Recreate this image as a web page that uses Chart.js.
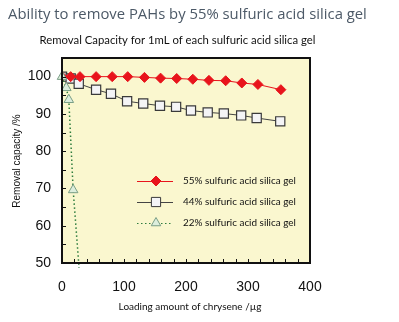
<!DOCTYPE html>
<html>
<head>
<meta charset="utf-8">
<script src="https://cdn.jsdelivr.net/npm/chart.js@4/dist/chart.umd.min.js"></script>
<style>
  html, body { margin: 0; padding: 0; background: #ffffff; }
  #wrap { width: 399px; height: 322px; position: relative; }
</style>
</head>
<body>
<div id="wrap"><canvas id="c" width="399" height="322"></canvas></div>
<script>
// values
const loading55  = [0, 14, 29, 55, 81, 106, 133, 159, 185, 211, 237, 264, 290, 316, 353];
const capacity55 = [100, 100, 100, 100, 100, 100, 99.8, 99.6, 99.5, 99.3, 99.0, 98.9, 98.3, 97.9, 96.5];

const loading44  = [0, 14, 27, 55, 79, 105, 131, 158, 184, 208, 235, 261, 289, 314, 352];
const capacity44 = [100, 99.5, 98.1, 96.5, 95.4, 93.4, 92.8, 92.2, 91.9, 90.9, 90.4, 90.1, 89.6, 88.9, 88.0];

const loading22  = [0, 7, 11, 18, 27.5];
const capacity22 = [100, 97, 93.8, 69.6, 48.7];

const seriesNames = ["55% sulfuric acid silica gel", "44% sulfuric acid silica gel", "22% sulfuric acid silica gel"];
const xTicks = [0, 100, 200, 300, 400];
const yTicks = [50, 60, 70, 80, 90, 100];

const mainTitle = "Ability to remove PAHs by 55% sulfuric acid silica gel";
const subTitle  = "Removal Capacity for 1mL of each sulfuric acid silica gel";
const xTitle    = "Loading amount of chrysene /\u00b5g";
const yTitle    = "Removal capacity /%";

function pts(xs, ys) {
  return xs.map(function(x, i) { return { x: x, y: ys[i] }; });
}

// shrink a font so the text spans the given width
function fitFont(ctx, text, family, size, width) {
  ctx.font = size + "px " + family;
  var w = ctx.measureText(text).width;
  ctx.font = (size * width / w).toFixed(2) + "px " + family;
}

const RED = "#e8141c";
const SQ_BORDER = "#3a3a3a";
const TRI_BORDER = "#7a9e86";

var frame = {
  id: "frame",
  beforeDatasetsDraw: function(chart) {
    var a = chart.chartArea, ctx = chart.ctx;
    ctx.save();
    ctx.fillStyle = "#faf7cf";
    ctx.fillRect(a.left, a.top, a.right - a.left, a.bottom - a.top);
    ctx.restore();
  },
  afterDraw: function(chart) {
    var a = chart.chartArea, ctx = chart.ctx;
    var xs = chart.scales.x, ys = chart.scales.y;
    ctx.save();

    // box
    ctx.strokeStyle = "#111";
    ctx.lineWidth = 2;
    ctx.strokeRect(a.left, a.top, a.right - a.left, a.bottom - a.top);

    // small inward ticks
    ctx.lineWidth = 1;
    for (var v = 50; v <= 105; v += 5) {
      var py = Math.round(ys.getPixelForValue(v)) + 0.5;
      ctx.beginPath(); ctx.moveTo(a.left, py); ctx.lineTo(a.left + 4, py); ctx.stroke();
    }
    for (var u = 20; u < 400; u += 20) {
      var px = Math.round(xs.getPixelForValue(u)) + 0.5;
      ctx.beginPath(); ctx.moveTo(px, a.bottom); ctx.lineTo(px, a.bottom - 4); ctx.stroke();
    }

    // titles
    ctx.textBaseline = "middle";
    ctx.fillStyle = "#4c5967";
    fitFont(ctx, mainTitle, "'Open Sans'", 16, 359);
    ctx.textAlign = "left";
    ctx.fillText(mainTitle, 8, 15);

    ctx.fillStyle = "#111";
    fitFont(ctx, subTitle, "Lato", 11.5, 276);
    ctx.textAlign = "center";
    ctx.fillText(subTitle, 177.5, 40);

    ctx.font = "10px Lato";
    ctx.fillText(xTitle, 190, 307);

    ctx.font = "10px 'Liberation Sans'";
    ctx.translate(17, 161);
    ctx.rotate(-Math.PI / 2);
    ctx.fillText(yTitle, 0, 0);
    ctx.restore();

    // legend inside plot
    ctx.save();
    var rows = [181, 202, 223];
    chart.data.datasets.forEach(function(ds, i) {
      var y = rows[i];
      ctx.strokeStyle = ds.borderColor;
      ctx.lineWidth = 1;
      ctx.setLineDash(ds.borderDash || []);
      ctx.beginPath(); ctx.moveTo(137, y + 0.5); ctx.lineTo(173, y + 0.5); ctx.stroke();
      ctx.setLineDash([]);
      ctx.fillStyle = ds.pointBackgroundColor;
      ctx.strokeStyle = ds.pointBorderColor;
      ctx.lineWidth = 1;
      if (Chart.helpers && Chart.helpers.drawPoint) {
        Chart.helpers.drawPoint(ctx, {
          pointStyle: ds.pointStyle, radius: ds.legendRadius, rotation: 0, borderWidth: 1
        }, 156, y);
      }
      ctx.fillStyle = "#111";
      fitFont(ctx, seriesNames[0], "Lato", 10, 113);
      ctx.textAlign = "left";
      ctx.textBaseline = "middle";
      ctx.fillText(ds.label, 183, y);
    });
    ctx.restore();
  }
};

new Chart(document.getElementById("c"), {
  type: "line",
  plugins: [frame],
  data: {
    datasets: [
      {
        label: seriesNames[0],
        data: pts(loading55, capacity55),
        borderColor: RED,
        borderWidth: 1,
        pointStyle: "rectRot",
        pointRadius: 5,
        legendRadius: 5,
        pointBackgroundColor: RED,
        pointBorderColor: RED,
        pointBorderWidth: 1,
        order: 1
      },
      {
        label: seriesNames[1],
        data: pts(loading44, capacity44),
        borderColor: "#444",
        borderWidth: 1,
        pointStyle: "rect",
        pointRadius: 6.5,
        legendRadius: 6.5,
        pointBackgroundColor: "#f4f4f6",
        pointBorderColor: SQ_BORDER,
        pointBorderWidth: 1.2,
        order: 2
      },
      {
        label: seriesNames[2],
        data: pts(loading22, capacity22),
        borderColor: "#2e7d3e",
        borderWidth: 1.5,
        borderDash: [1.5, 2.5],
        pointStyle: "triangle",
        pointRadius: [5.5, 5.5, 5.5, 5.5, 0],
        legendRadius: 5.5,
        pointBackgroundColor: "#ddeedd",
        pointBorderColor: TRI_BORDER,
        pointBorderWidth: 1,
        clip: false,
        order: 0
      }
    ]
  },
  options: {
    responsive: false,
    animation: false,
    layout: { padding: { top: 58, right: 89, left: 0, bottom: 0 } },
    plugins: {
      legend: { display: false },
      tooltip: { enabled: false }
    },
    scales: {
      x: {
        type: "linear",
        min: 0,
        max: 400,
        afterFit: function(s) { s.height = 59; },
        afterBuildTicks: function(s) { s.ticks = xTicks.map(function(v) { return { value: v }; }); },
        grid: { display: false, drawTicks: false },
        border: { display: false },
        ticks: { padding: 16, color: "#111", font: { family: "'Liberation Sans'", size: 14 } }
      },
      y: {
        type: "linear",
        min: 50,
        max: 105,
        afterFit: function(s) { s.width = 62; },
        afterBuildTicks: function(s) { s.ticks = yTicks.map(function(v) { return { value: v }; }); },
        grid: { display: false, drawTicks: false },
        border: { display: false },
        ticks: { padding: 11, color: "#111", font: { family: "'Liberation Sans'", size: 14 } }
      }
    }
  }
});
</script>
</body>
</html>
